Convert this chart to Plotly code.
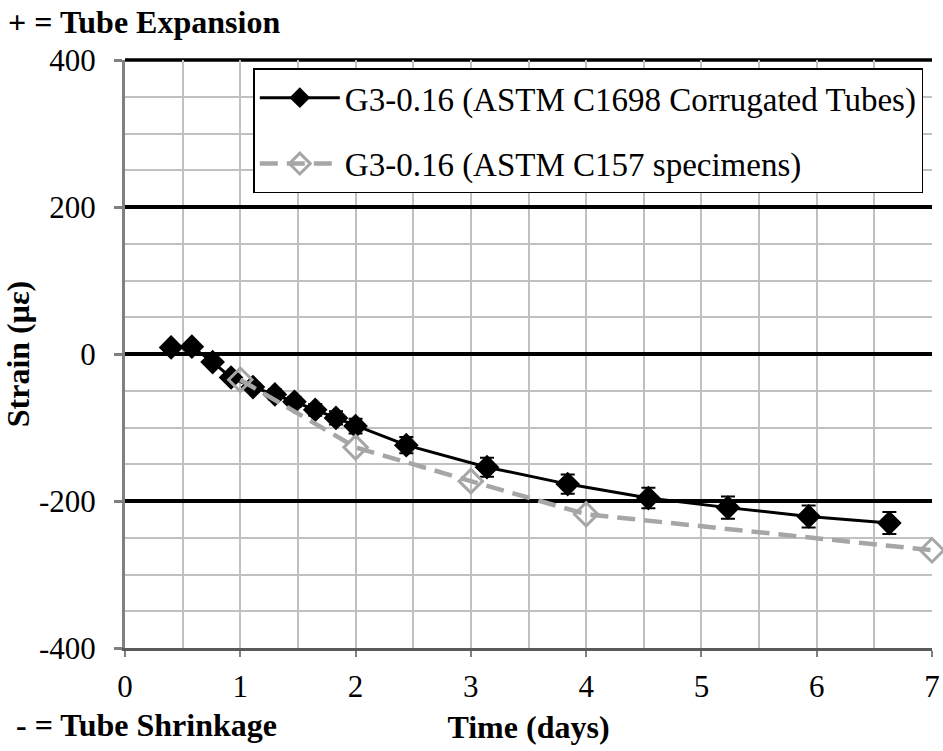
import plotly.graph_objects as go

# Black series: ASTM C1698 corrugated tubes
tube_days = [0.40, 0.58, 0.76, 0.92, 1.11, 1.30, 1.47, 1.65, 1.83, 2.00,
             2.44, 3.14, 3.84, 4.54, 5.23, 5.93, 6.63]
tube_strain = [9, 10, -11, -32, -45, -55, -65, -76, -87, -98,
               -124, -154, -177, -196, -209, -221, -230]
tube_err = [3, 3, 4, 5, 6, 7, 7, 8, 9, 10, 11, 13, 13, 14, 15, 15, 15]

# Grey series: ASTM C157 specimens
c157_days = [1, 2, 3, 4, 7]
c157_strain = [-35, -127, -173, -218, -267]

name_tube = "G3-0.16 (ASTM C1698 Corrugated Tubes)"
name_c157 = "G3-0.16 (ASTM C157 specimens)"

x_ticks = [0, 1, 2, 3, 4, 5, 6, 7]
y_ticks = [-400, -200, 0, 200, 400]

FONT = "Times New Roman, Liberation Serif, Tinos, DejaVu Serif, serif"

fig = go.Figure()
fig.add_trace(go.Scatter(
    x=tube_days, y=tube_strain, name=name_tube, legendgroup="a",
    mode="lines+markers", cliponaxis=False,
    line=dict(color="black", width=3),
    marker=dict(symbol="diamond", size=19, color="black"),
    error_y=dict(type="data", array=tube_err, color="black", thickness=2, width=7),
))
fig.add_trace(go.Scatter(
    x=c157_days, y=c157_strain, name=name_c157, legendgroup="b",
    mode="lines+markers", cliponaxis=False,
    line=dict(color="#a6a6a6", width=4.5, dash="18px,9px"),
    marker=dict(symbol="diamond-open", size=18, color="#a6a6a6",
                line=dict(width=3, color="#a6a6a6")),
))

fig.update_layout(
    width=943, height=751,
    margin=dict(l=125, r=11, t=60, b=103, autoexpand=False),
    paper_bgcolor="white", plot_bgcolor="white",
    font=dict(family=FONT, size=31, color="black"),
    showlegend=True,
    legend=dict(
        x=0.159, y=0.986, xanchor="left", yanchor="top",
        bgcolor="white", bordercolor="black", borderwidth=1.5,
        font=dict(family=FONT, size=33, color="black"),
        tracegroupgap=20, itemwidth=80,
    ),
    xaxis=dict(
        range=[0, 7], tickvals=x_ticks, ticktext=[str(v) for v in x_ticks],
        automargin=False,
        showgrid=True, gridcolor="#c0c0c0", gridwidth=2,
        minor=dict(dtick=0.5, showgrid=True, gridcolor="#c0c0c0", gridwidth=2,
                   ticks=""),
        ticks="outside", ticklen=6, tickcolor="#808080", tickwidth=2,
        ticklabelstandoff=3,
        showline=True, linecolor="#595959", linewidth=3,
        zeroline=False,
        title=dict(text="<b>Time (days)</b>", font=dict(family=FONT, size=32),
                   standoff=13),
    ),
    yaxis=dict(
        range=[-400, 400], tickvals=y_ticks, ticktext=[str(v) for v in y_ticks],
        automargin=False,
        showgrid=True, gridcolor="black", gridwidth=3.5,
        minor=dict(dtick=50, showgrid=True, gridcolor="#c0c0c0", gridwidth=2,
                   ticks=""),
        ticks="outside", ticklen=8, tickcolor="#808080", tickwidth=3,
        ticklabelstandoff=12,
        showline=True, linecolor="#808080", linewidth=3,
        zeroline=True, zerolinecolor="black", zerolinewidth=3.5,
        title=dict(text="<b>Strain (με)</b>", font=dict(family=FONT, size=32),
                   standoff=3),
    ),
    shapes=[dict(type="line", xref="paper", yref="paper", x0=0, x1=1, y0=1, y1=1,
                 line=dict(color="black", width=3.5), layer="below")],
    annotations=[
        dict(text="<b>+ = Tube Expansion</b>", xref="paper", yref="paper",
             x=-0.147, y=1.0646, xanchor="left", yanchor="middle", showarrow=False,
             font=dict(family=FONT, size=32)),
        dict(text="<b>- = Tube Shrinkage</b>", xref="paper", yref="paper",
             x=-0.137, y=-0.131, xanchor="left", yanchor="middle", showarrow=False,
             font=dict(family=FONT, size=32)),
    ],
)

fig.write_html("out.html")
